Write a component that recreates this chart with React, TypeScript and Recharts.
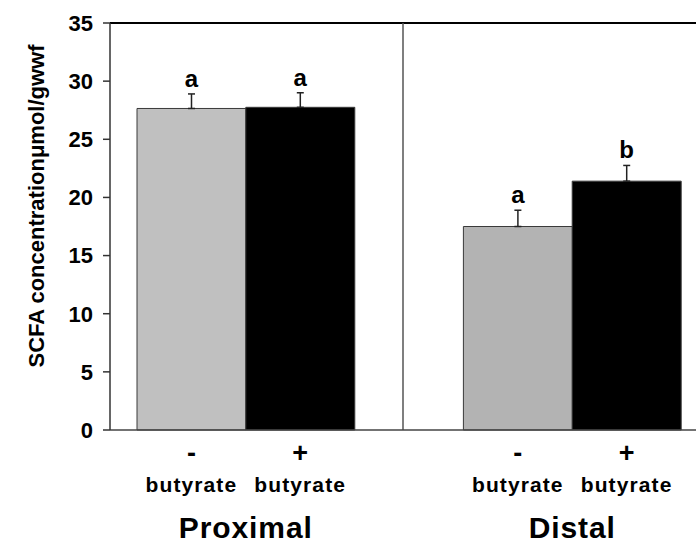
import { Bar, BarChart, Cell, ErrorBar, LabelList, ReferenceLine, XAxis, YAxis } from 'recharts'

// values (µmol/gwwf), order per group: [- butyrate, + butyrate]
const groups = ['Proximal', 'Distal']
const treatments = ['-', '+']
const treatmentName = 'butyrate'
const proximalMeans = [27.65, 27.75]
const distalMeans = [17.5, 21.4]
const proximalErrors = [1.25, 1.25]
const distalErrors = [1.4, 1.35]
const proximalLetters = ['a', 'a']
const distalLetters = ['a', 'b']
const yTicks = [0, 5, 10, 15, 20, 25, 30, 35]

const FONT = '"Liberation Sans", Arial, Helvetica, sans-serif'
const W = 696
const H = 543
const MARGIN = { top: 23, right: 0, bottom: 0, left: 0 }
const X_AXIS_H = 113
const PAD = { left: 27, right: 15 }
const Y_AXIS_W = 110
const groupFills = [
    ['#c0c0c0', '#000000'],
    ['#b3b3b3', '#000000'],
]

const means = [proximalMeans, distalMeans]
const errs = [proximalErrors, distalErrors]
const letters = [proximalLetters, distalLetters]

type Row = {
    key: string
    group?: string
    sign?: string
    value?: number
    err?: [number, number]
    letter?: string
    fill?: string
}

const rows: Row[] = []
groups.forEach((g, gi) => {
    if (gi > 0) rows.push({ key: 'gap' })
    treatments.forEach((t, ti) => {
        rows.push({
            key: `${g} ${t}`,
            group: g,
            sign: t,
            value: means[gi][ti],
            err: [0, errs[gi][ti]],
            letter: letters[gi][ti],
            fill: groupFills[gi][ti],
        })
    })
})

const plotW = W - Y_AXIS_W - MARGIN.left - MARGIN.right
const BAND = (plotW - PAD.left - PAD.right) / rows.length

function XTick(props: any) {
    const { x, y, payload } = props
    const row = rows[payload.index]
    if (!row || !row.sign) return null
    return (
        <g fontFamily={FONT} fontWeight='bold' fill='#000'>
            <text x={x} y={y + 32} textAnchor='middle' fontSize={27}>
                {row.sign}
            </text>
            <text x={x} y={y + 62} textAnchor='middle' fontSize={21} letterSpacing={1.1}>
                {treatmentName}
            </text>
            {row.sign === '+' && (
                <text
                    x={x - BAND / 2}
                    y={y + 108}
                    textAnchor='middle'
                    fontSize={30}
                    letterSpacing={0.9}
                >
                    {row.group}
                </text>
            )}
        </g>
    )
}

// the label is keyed by row key, so the letter can sit just above its error bar
function renderLetter(props: any) {
    const { x, y, width, height, value } = props
    const row = rows.find((r) => r.key === value)
    if (!row || row.value == null || !row.err) return null
    const ppu = Number(height) / row.value
    const top = Number(y) - row.err[1] * ppu
    return (
        <text
            x={Number(x) + Number(width) / 2}
            y={top - 7}
            textAnchor='middle'
            fontFamily={FONT}
            fontWeight='bold'
            fontSize={24}
            fill='#000'
        >
            {row.letter}
        </text>
    )
}

function renderYLabel() {
    return (
        <text
            x={36}
            y={206}
            transform='rotate(-90 36 206)'
            textAnchor='middle'
            dominantBaseline='central'
            fontFamily={FONT}
            fontWeight='bold'
            fontSize={22}
            fill='#000'
        >
            SCFA concentrationμmol/gwwf
        </text>
    )
}

export default function App() {
    return (
        <div style={{ width: W, height: H, background: '#fff' }}>
            <style>{'body{margin:0}'}</style>
            <BarChart
                width={W}
                height={H}
                data={rows}
                margin={MARGIN}
                barCategoryGap={0}
                barGap={0}
            >
                <XAxis
                    dataKey='key'
                    interval={0}
                    padding={PAD}
                    tickLine={false}
                    tickSize={0}
                    tickMargin={0}
                    height={X_AXIS_H}
                    axisLine={{ stroke: '#444', strokeWidth: 1.5 }}
                    tick={<XTick />}
                />
                <XAxis
                    xAxisId='split'
                    dataKey='split'
                    type='number'
                    domain={[0, groups.length]}
                    allowDataOverflow
                    hide
                />
                <YAxis
                    width={Y_AXIS_W}
                    domain={[0, 35]}
                    ticks={yTicks}
                    interval={0}
                    tickSize={7}
                    tickMargin={10}
                    axisLine={{ stroke: '#333', strokeWidth: 1.5 }}
                    tickLine={{ stroke: '#333', strokeWidth: 1.5 }}
                    tick={{ fill: '#000', fontSize: 22, fontWeight: 'bold', fontFamily: FONT }}
                    label={{ content: renderYLabel }}
                />
                <ReferenceLine y={35} stroke='#000' strokeWidth={2} />
                <ReferenceLine xAxisId='split' x={1} stroke='#555' strokeWidth={1.5} />
                <Bar dataKey='value' isAnimationActive={false} stroke='#3a3a3a' strokeWidth={1}>
                    {rows.map((r) => (
                        <Cell key={r.key} fill={r.fill ?? 'none'} />
                    ))}
                    <ErrorBar dataKey='err' width={3.5} stroke='#222' strokeWidth={1.5} direction='y' />
                    <LabelList dataKey='key' content={renderLetter} />
                </Bar>
            </BarChart>
        </div>
    )
}
